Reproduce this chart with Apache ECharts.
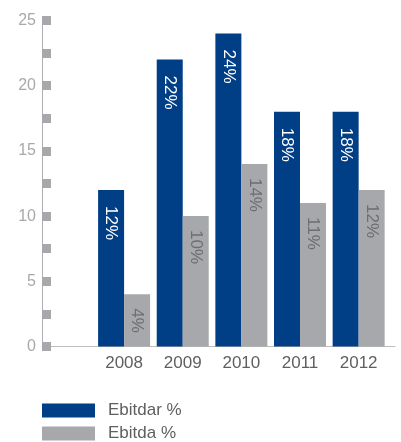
<!DOCTYPE html>
<html>
<head>
<meta charset="utf-8">
<script src="https://cdn.jsdelivr.net/npm/echarts@6/dist/echarts.min.js"></script>
<style>
  html, body { margin: 0; padding: 0; background: #fff; }
  #chart { width: 401px; height: 442px; }
</style>
</head>
<body>
<div id="chart"></div>
<script>
// Yearly margins, in percent
const years = [2008, 2009, 2010, 2011, 2012];
const ebitdar = [12, 22, 24, 18, 18];
const ebitda = [4, 10, 14, 11, 12];
const yTicks = [0, 5, 10, 15, 20, 25];
const seriesNames = ['Ebitdar %', 'Ebitda %'];

const FONT = '"Liberation Sans", Arial, sans-serif';
const BLUE = '#003e86';
const GREY = '#a7a8ab';

const pairs = (vals) => years.map((y, i) => [y, vals[i]]);

const barLabel = (color, distance) => ({
  show: true,
  position: 'insideTop',
  rotate: -90,
  align: 'left',
  verticalAlign: 'middle',
  distance: distance,
  color: color,
  fontSize: 17,
  fontFamily: FONT,
  formatter: (p) => p.value[1] + '%'
});

// one legend row per series, stacked under the plot
const legendRow = (name, top) => ({
  orient: 'horizontal',
  left: 42,
  top: top,
  padding: 0,
  itemWidth: 53,
  itemHeight: 14,
  icon: 'rect',
  textStyle: {
    color: '#5f5f5f',
    fontSize: 17,
    fontFamily: FONT,
    padding: [0, 0, 0, 8]
  },
  data: [name]
});

const chart = echarts.init(document.getElementById('chart'));
chart.setOption({
  animation: false,
  textStyle: { fontFamily: FONT },
  grid: { left: 42, right: 6, top: 20.5, bottom: 95.5, containLabel: false },
  xAxis: {
    type: 'value',
    min: 2006.6,
    max: 2012.62,
    splitLine: { show: false },
    axisTick: { show: false },
    axisLine: { show: true, lineStyle: { color: '#bdbdbd', width: 1 } },
    axisLabel: {
      customValues: years,
      formatter: (v) => String(v),
      color: '#5f5f5f',
      fontSize: 17,
      fontFamily: FONT,
      margin: 8
    }
  },
  yAxis: {
    type: 'value',
    min: 0,
    max: 25,
    interval: 2.5,
    splitLine: { show: false },
    axisLine: { show: true, lineStyle: { color: '#b0b0b0', width: 1 } },
    axisTick: {
      show: true,
      inside: true,
      length: 9,
      lineStyle: { color: GREY, width: 9 }
    },
    axisLabel: {
      formatter: (v) => (yTicks.includes(v) ? String(v) : ''),
      color: '#a9a9a9',
      fontSize: 16,
      fontFamily: FONT,
      margin: 6
    }
  },
  legend: [legendRow(seriesNames[0], 402), legendRow(seriesNames[1], 425)],
  series: [
    {
      name: seriesNames[0],
      type: 'bar',
      data: pairs(ebitdar),
      barWidth: 26,
      barGap: '0%',
      itemStyle: { color: BLUE },
      label: barLabel('#ffffff', 16)
    },
    {
      name: seriesNames[1],
      type: 'bar',
      data: pairs(ebitda),
      barWidth: 26,
      barGap: '0%',
      itemStyle: { color: GREY },
      label: barLabel('#6d6e71', 14)
    }
  ]
});
</script>
</body>
</html>
